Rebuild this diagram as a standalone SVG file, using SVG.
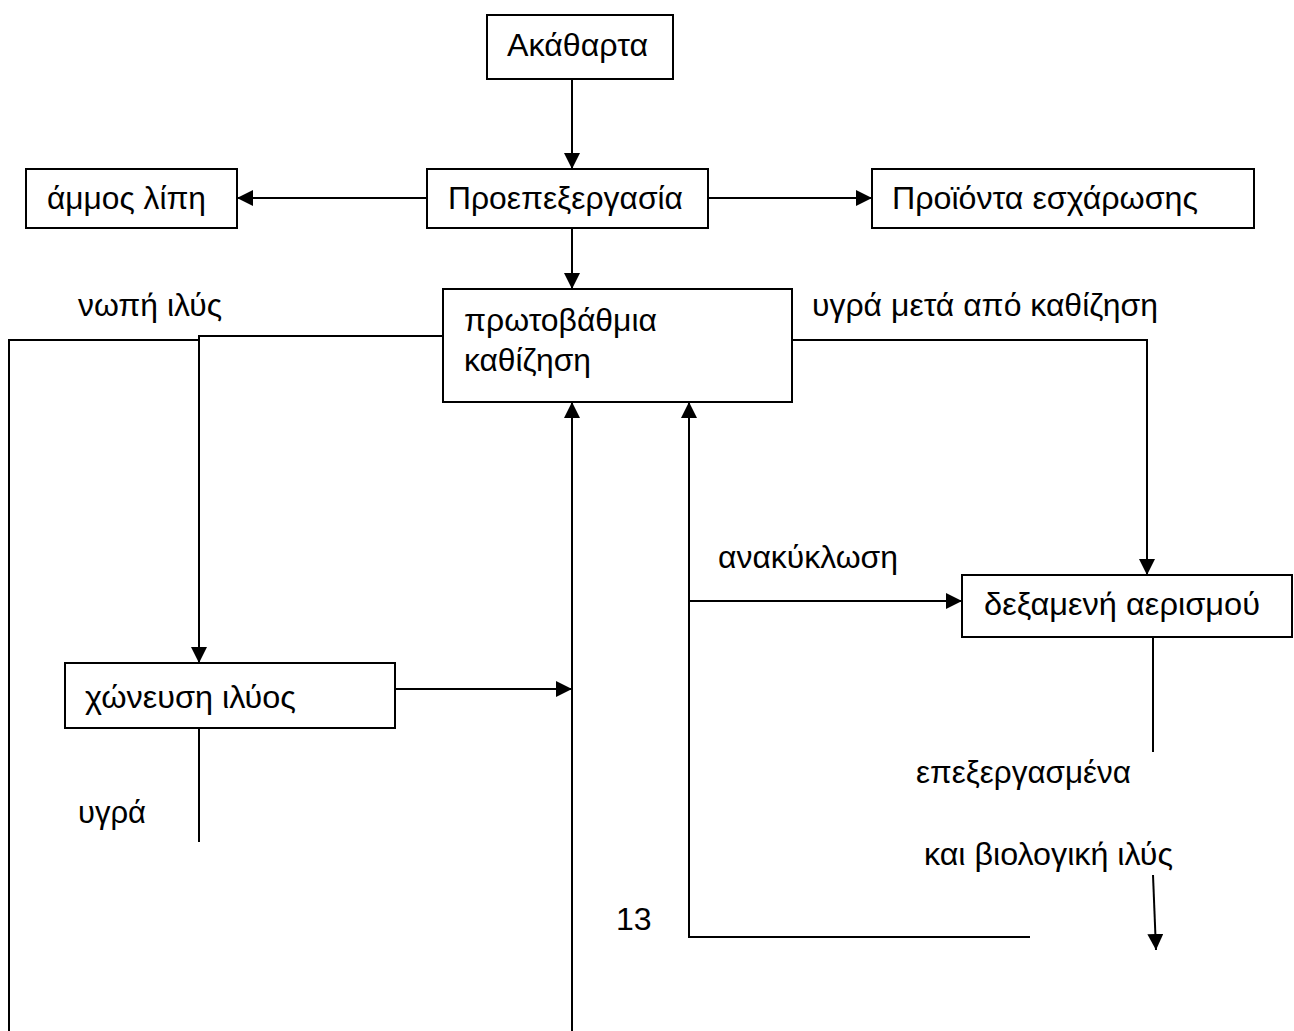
<svg xmlns="http://www.w3.org/2000/svg" width="1294" height="1031" viewBox="0 0 1294 1031">
<style>
.box{fill:#fff;stroke:#000;stroke-width:2}
.t{font-family:"Liberation Sans",Arial,sans-serif;font-size:32px;fill:#000}
.c{fill:none;stroke:#000;stroke-width:2}
</style>
<defs>
<marker id="ah" markerUnits="userSpaceOnUse" markerWidth="16" markerHeight="16" viewBox="0 0 16 16" refX="16" refY="8" orient="auto">
<path d="M0,0 L16,8 L0,16 Z" fill="#000"/>
</marker>
</defs>
<rect width="1294" height="1031" fill="#fff"/>
<g id="connectors">
<path class="c" d="M572,79 V169" marker-end="url(#ah)"/>
<path class="c" d="M427,198 H237" marker-end="url(#ah)"/>
<path class="c" d="M708,198 H872" marker-end="url(#ah)"/>
<path class="c" d="M572,228 V289" marker-end="url(#ah)"/>
<path class="c" d="M443,336 H199 V663" marker-end="url(#ah)"/>
<path class="c" d="M199,340 H9 V1031"/>
<path class="c" d="M792,340 H1147 V575" marker-end="url(#ah)"/>
<path class="c" d="M395,689 H572" marker-end="url(#ah)"/>
<path class="c" d="M572,1031 V402" marker-end="url(#ah)"/>
<path class="c" d="M1030,937 H689 V402" marker-end="url(#ah)"/>
<path class="c" d="M689,601 H962" marker-end="url(#ah)"/>
<path class="c" d="M199,727 V842"/>
<path class="c" d="M1153,637 V752"/>
<path class="c" d="M1153,875 L1156,950" marker-end="url(#ah)"/>
</g>
<g id="akatharta"><rect class="box" x="487" y="15" width="186" height="64"/><text class="t" x="507" y="56" textLength="141" lengthAdjust="spacingAndGlyphs">Ακάθαρτα</text></g>
<g id="proepexergasia"><rect class="box" x="427" y="169" width="281" height="59"/><text class="t" x="448" y="209" textLength="235" lengthAdjust="spacingAndGlyphs">Προεπεξεργασία</text></g>
<g id="ammos"><rect class="box" x="26" y="169" width="211" height="59"/><text class="t" x="47" y="209" textLength="159" lengthAdjust="spacingAndGlyphs">άμμος λίπη</text></g>
<g id="proionta"><rect class="box" x="872" y="169" width="382" height="59"/><text class="t" x="892" y="209" textLength="306" lengthAdjust="spacingAndGlyphs">Προϊόντα εσχάρωσης</text></g>
<g id="protovathmia"><rect class="box" x="443" y="289" width="349" height="113"/><text class="t" x="464" y="331" textLength="193" lengthAdjust="spacingAndGlyphs">πρωτοβάθμια</text><text class="t" x="464" y="371" textLength="127" lengthAdjust="spacingAndGlyphs">καθίζηση</text></g>
<g id="dexameni"><rect class="box" x="962" y="575" width="330" height="62"/><text class="t" x="984" y="615" textLength="276" lengthAdjust="spacingAndGlyphs">δεξαμενή αερισμού</text></g>
<g id="choneusi"><rect class="box" x="65" y="663" width="330" height="65"/><text class="t" x="85" y="708" textLength="211" lengthAdjust="spacingAndGlyphs">χώνευση ιλύος</text></g>
<g id="labels">
<text class="t" x="78" y="316" textLength="144" lengthAdjust="spacingAndGlyphs">νωπή ιλύς</text>
<text class="t" x="812" y="316" textLength="346" lengthAdjust="spacingAndGlyphs">υγρά μετά από καθίζηση</text>
<text class="t" x="718" y="568" textLength="180" lengthAdjust="spacingAndGlyphs">ανακύκλωση</text>
<text class="t" x="78" y="823" textLength="68" lengthAdjust="spacingAndGlyphs">υγρά</text>
<text class="t" x="916" y="783" textLength="215" lengthAdjust="spacingAndGlyphs">επεξεργασμένα</text>
<text class="t" x="924" y="865" textLength="249" lengthAdjust="spacingAndGlyphs">και βιολογική ιλύς</text>
<text class="t" x="616" y="930">13</text>
</g>
</svg>
